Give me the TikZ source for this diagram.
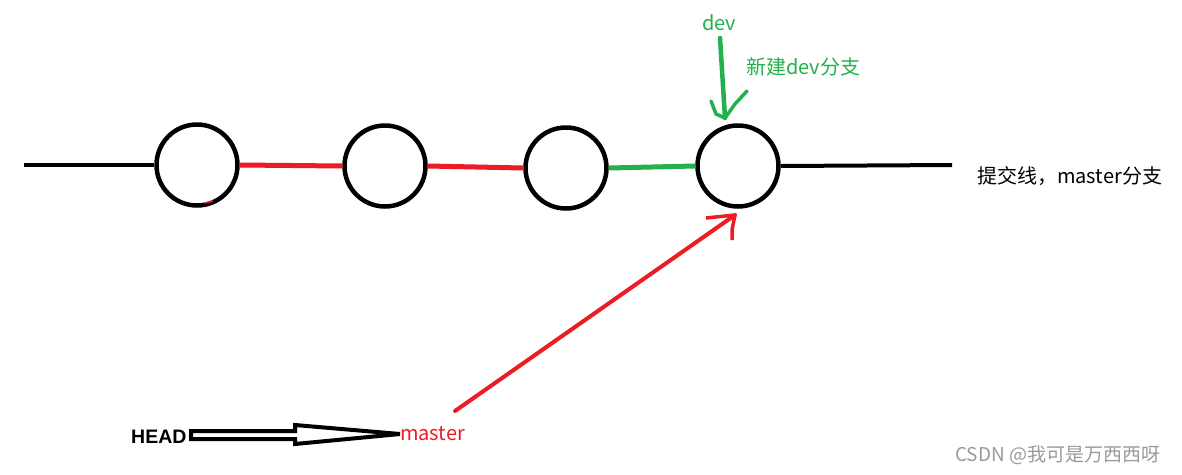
\documentclass[tikz,border=0pt]{standalone}
\usepackage{fontspec}
\setmainfont{Noto Sans CJK SC}
\newfontfamily\latinbold{Liberation Sans}
\begin{document}
\begin{tikzpicture}[x=1pt,y=-1pt,
  commit/.style={circle,draw=black,line width=4.5pt,minimum size=81pt,inner sep=0pt},
  lineblk/.style={line width=4pt,black},
  linered/.style={line width=5pt,pred},
  linegrn/.style={line width=5pt,pgreen},
  lbl/.style={inner sep=0pt,anchor=west,font=\fontsize{20}{20}\selectfont}]
\definecolor{pred}{HTML}{ED1C24}
\definecolor{pgreen}{HTML}{22B14C}
\definecolor{wm}{HTML}{9A9A9A}
\useasboundingbox[fill=white] (0,0) rectangle (1182,474);
% commits
\node[commit] (c1) at (197,165) {};
\node[commit] (c2) at (385,166) {};
\node[commit] (c3) at (566,168) {};
\node[commit] (c4) at (738,166) {};
\coordinate (left) at (24,165);
\coordinate (right) at (952,165);
\draw[lineblk] (left) -- (c1.west);
\draw[linered] (c1.east) -- (c2.west);
\draw[linered] (c2.east) -- (c3.west);
\draw[linegrn] (c3.east) -- (c4.west);
\draw[lineblk] (c4.east) -- (right);
\draw[pred,line width=1.5pt] (205,203) -- (213,201);
% labels
\node[lbl] (commitline) at (977,176) {提交线，master分支};
\node[lbl,text=pgreen,anchor=center] (dev) at (719,23) {dev};
\node[lbl,text=pgreen] (newdev) at (746,67) {新建dev分支};
% green arrow
\coordinate (gtip) at (725,118);
\draw[pgreen,line width=4.5pt,line cap=round] (720,38) -- (gtip);
\draw[pgreen,line width=3.5pt,line cap=round,line join=round] (711,101) -- (716,114) -- (gtip) -- (735,104) -- (747,91);
% master and HEAD
\node[lbl,text=pred] (master) at (400,434) {master};
\node[lbl,font=\latinbold\bfseries\fontsize{19.5}{20}\selectfont] (head) at (131,437) {HEAD};
% red arrow to c4
\coordinate (rtip) at (735,215);
\draw[pred,line width=4pt,line cap=round] (455,411) -- (rtip);
\draw[pred,line width=3.5pt,line join=round] (706,218) -- (rtip) -- (732,230) -- (732,240);
% hollow arrow HEAD -> master
\draw[black,line width=4pt,line join=miter] (191,431) -- (295,431) -- (295,425) -- (master.west) -- (295,444) -- (295,439) -- (191,439) -- cycle;
% watermark
\node[lbl,text=wm,font=\fontsize{19}{19}\selectfont] (wmark) at (955,455) {CSDN @我可是万西西呀};
\end{tikzpicture}
\end{document}
